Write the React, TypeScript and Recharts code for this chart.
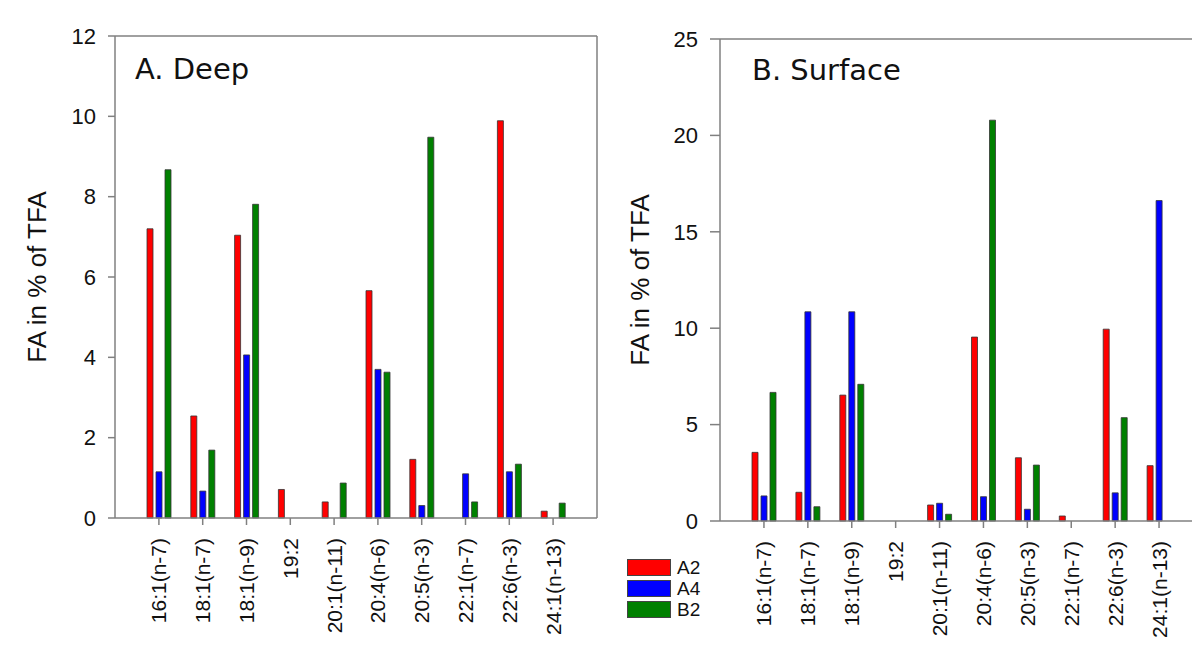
import React from "react";
import { BarChart, Bar, XAxis, YAxis } from "recharts";

const categories = [
  "16:1(n-7)",
  "18:1(n-7)",
  "18:1(n-9)",
  "19:2",
  "20:1(n-11)",
  "20:4(n-6)",
  "20:5(n-3)",
  "22:1(n-7)",
  "22:6(n-3)",
  "24:1(n-13)",
];

// A. Deep
const deepA2 = [7.2, 2.54, 7.04, 0.71, 0.4, 5.66, 1.46, 0, 9.89, 0.17];
const deepA4 = [1.15, 0.67, 4.06, 0, 0, 3.7, 0.31, 1.1, 1.15, 0];
const deepB2 = [8.67, 1.69, 7.81, 0, 0.87, 3.63, 9.48, 0.4, 1.34, 0.37];

// B. Surface
const surfA2 = [3.56, 1.49, 6.53, 0, 0.83, 9.54, 3.28, 0.26, 9.95, 2.87];
const surfA4 = [1.3, 10.85, 10.85, 0, 0.92, 1.26, 0.61, 0, 1.46, 16.62];
const surfB2 = [6.67, 0.74, 7.09, 0, 0.35, 20.79, 2.9, 0, 5.36, 0];

const deepTicks = [0, 2, 4, 6, 8, 10, 12];
const surfTicks = [0, 5, 10, 15, 20, 25];

const series = [
  { key: "A2", color: "#ff0000" },
  { key: "A4", color: "#0000ff" },
  { key: "B2", color: "#008000" },
];

const build = (a2: number[], a4: number[], b2: number[]) =>
  categories.map((name, i) => ({ name, A2: a2[i], A4: a4[i], B2: b2[i] }));

const deepData = build(deepA2, deepA4, deepB2);
const surfData = build(surfA2, surfA4, surfB2);

const AXIS = "#808080";
const FONT = "'Liberation Sans', Arial, sans-serif";

const RotTick = (props: any) => {
  const { x, y, payload } = props;
  return (
    <text
      x={x}
      y={y}
      transform={`rotate(-90 ${x} ${y})`}
      textAnchor="end"
      dominantBaseline="central"
      fontSize={21}
      fontFamily={FONT}
      fill="#111"
    >
      {payload.value}
    </text>
  );
};

const yLabel = (dx: number) => (props: any) => {
  const vb = props.viewBox || {};
  const cx = vb.x + dx;
  const cy = vb.y + vb.height / 2;
  return (
    <text
      x={cx}
      y={cy}
      transform={`rotate(-90 ${cx} ${cy})`}
      textAnchor="middle"
      dominantBaseline="central"
      fontSize={26}
      fontFamily={FONT}
      fill="#111"
    >
      FA in % of TFA
    </text>
  );
};

function Panel({
  data,
  ticks,
  margin,
  ySize,
  labelDx,
}: {
  data: any[];
  ticks: number[];
  margin: any;
  ySize: number;
  labelDx: number;
}) {
  return (
    <BarChart
      width={620}
      height={648}
      data={data}
      margin={margin}
      barSize={6}
      barGap={3}
    >
      <XAxis
        dataKey="name"
        height={110}
        interval={0}
        padding={{ left: 22, right: 22 }}
        tickSize={7}
        tickMargin={13}
        tick={<RotTick />}
        stroke={AXIS}
        axisLine={{ stroke: AXIS, strokeWidth: 1.5 }}
        tickLine={{ stroke: AXIS, strokeWidth: 1.5 }}
      />
      {/* frame: top edge */}
      <XAxis
        xAxisId="top"
        orientation="top"
        dataKey="name"
        height={1}
        tick={false}
        tickLine={false}
        axisLine={{ stroke: AXIS, strokeWidth: 1.5 }}
      />
      <YAxis
        domain={[0, ticks[ticks.length - 1]]}
        ticks={ticks}
        width={100}
        tickSize={ySize}
        tickMargin={12}
        tick={{ fontSize: 22, fill: "#111", fontFamily: FONT }}
        stroke={AXIS}
        axisLine={{ stroke: AXIS, strokeWidth: 1.5 }}
        tickLine={{ stroke: AXIS, strokeWidth: 1.5 }}
        label={{ content: yLabel(labelDx) }}
      />
      {/* frame: right edge */}
      <YAxis
        yAxisId="right"
        orientation="right"
        width={1}
        domain={[0, 1]}
        tick={false}
        tickLine={false}
        axisLine={{ stroke: AXIS, strokeWidth: 1.5 }}
      />
      {series.map((s) => (
        <Bar
          key={s.key}
          dataKey={s.key}
          fill={s.color}
          stroke="#333"
          strokeWidth={0.8}
          isAnimationActive={false}
        />
      ))}
    </BarChart>
  );
}

const titleStyle: React.CSSProperties = {
  position: "absolute",
  fontFamily: "'DejaVu Sans', Verdana, sans-serif",
  fontSize: 29,
  lineHeight: "29px",
  color: "#111",
  whiteSpace: "nowrap",
};

export default function App() {
  return (
    <div
      style={{
        position: "absolute",
        left: 0,
        top: 0,
        width: 1192,
        height: 648,
        overflow: "hidden",
        background: "#fff",
      }}
    >
      <div style={{ position: "absolute", left: 0, top: 0 }}>
        <Panel
          data={deepData}
          ticks={deepTicks}
          margin={{ top: 35, right: 22, left: 15, bottom: 20 }}
          ySize={7}
          labelDx={22}
        />
      </div>
      <div style={{ position: "absolute", left: 600, top: 0 }}>
        <Panel
          data={surfData}
          ticks={surfTicks}
          margin={{ top: 38, right: 16, left: 20, bottom: 17 }}
          ySize={10}
          labelDx={20}
        />
      </div>
      <div style={{ ...titleStyle, left: 135, top: 55 }}>A. Deep</div>
      <div style={{ ...titleStyle, left: 752, top: 56 }}>B. Surface</div>
      <div style={{ position: "absolute", left: 627, top: 557, fontFamily: FONT }}>
        {series.map((s) => (
          <div
            key={s.key}
            style={{ display: "flex", alignItems: "center", height: 21 }}
          >
            <div
              style={{
                width: 42,
                height: 15,
                background: s.color,
                border: "1px solid #444",
              }}
            />
            <span style={{ marginLeft: 6, fontSize: 19, color: "#111" }}>
              {s.key}
            </span>
          </div>
        ))}
      </div>
    </div>
  );
}
